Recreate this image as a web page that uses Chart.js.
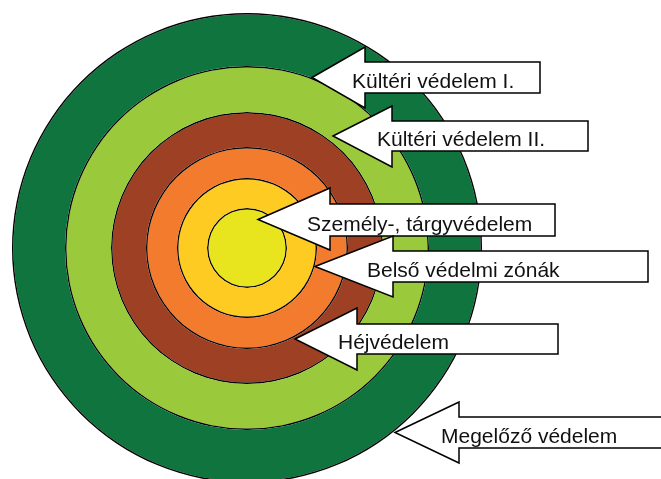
<!DOCTYPE html>
<html><head><meta charset="utf-8">
<script src="https://cdn.jsdelivr.net/npm/chart.js@4.4.1/dist/chart.umd.min.js"></script>
<style>html,body{margin:0;padding:0;background:#fff;overflow:hidden;width:661px;height:479px}
canvas{position:absolute;left:0;top:0}</style></head>
<body><canvas id="c" width="661" height="490"></canvas>
<script>
// Rings from outside to inside
const zoneLabels = ["Megelőző védelem","Kültéri védelem I.","Kültéri védelem II.","Héjvédelem","Belső védelmi zónák","Személy-, tárgyvédelem"];
const ringWidths = [53, 46, 35, 31, 30, 40];
const ringColors = ["#0f743d","#9aca3c","#9d4023","#f27b2e","#fecb23","#e8e51e"];

// Callout arrow layout (pixels), same order as zoneLabels
const arrowLayout = [
  {tipX:395, cy:432.5, baseX:459, headTop:402, headBot:463, boxTop:417, boxBot:448, right:700, textX:441},
  {tipX:312, cy:77.5,  baseX:365, headTop:47,  headBot:108, boxTop:62,  boxBot:93,  right:540, textX:352},
  {tipX:333, cy:136,   baseX:392, headTop:106, headBot:167, boxTop:121, boxBot:151, right:588, textX:377},
  {tipX:295, cy:339,   baseX:357, headTop:308, headBot:370, boxTop:324, boxBot:354, right:558, textX:338},
  {tipX:315, cy:266.5, baseX:393, headTop:236, headBot:297, boxTop:251, boxBot:282, right:648, textX:367},
  {tipX:258, cy:219.5, baseX:330, headTop:188, headBot:250, boxTop:204, boxBot:236, right:555, textX:307}
];

const BORDER = 1.4;
const datasets = [];
ringWidths.forEach((w, i) => {
  datasets.push({label: 'border', data:[1], backgroundColor:'#000', borderWidth:0, weight:BORDER});
  datasets.push({label: zoneLabels[i], data:[1], backgroundColor: ringColors[i], borderWidth:0, weight: w - BORDER});
});

const arrowPlugin = {
  id: 'arrows',
  afterDraw(chart) {
    const ctx = chart.ctx;
    ctx.save();
    const order = [1,2,5,4,3,0];
    order.forEach(i => {
      const a = arrowLayout[i];
      ctx.beginPath();
      ctx.moveTo(a.tipX, a.cy);
      ctx.lineTo(a.baseX, a.headTop);
      ctx.lineTo(a.baseX, a.boxTop);
      ctx.lineTo(a.right, a.boxTop);
      ctx.lineTo(a.right, a.boxBot);
      ctx.lineTo(a.baseX, a.boxBot);
      ctx.lineTo(a.baseX, a.headBot);
      ctx.closePath();
      ctx.fillStyle = '#fff';
      ctx.fill();
      ctx.lineWidth = 1.5;
      ctx.strokeStyle = '#000';
      ctx.lineJoin = 'miter';
      ctx.stroke();
      ctx.fillStyle = '#111';
      ctx.font = "21px 'Liberation Sans', Arial, sans-serif";
      ctx.textBaseline = 'alphabetic';
      ctx.textAlign = 'left';
      ctx.fillText(zoneLabels[i], a.textX, a.boxBot - 5);
    });
    ctx.restore();
  }
};

new Chart(document.getElementById('c'), {
  type: 'doughnut',
  data: { labels: ['zone'], datasets },
  options: {
    responsive: false,
    animation: false,
    events: [],
    cutout: 0,
    layout: { padding: { left: 12, top: 13, right: 179, bottom: 7 } },
    plugins: { legend: { display: false }, tooltip: { enabled: false } }
  },
  plugins: [arrowPlugin]
});
</script></body></html>
